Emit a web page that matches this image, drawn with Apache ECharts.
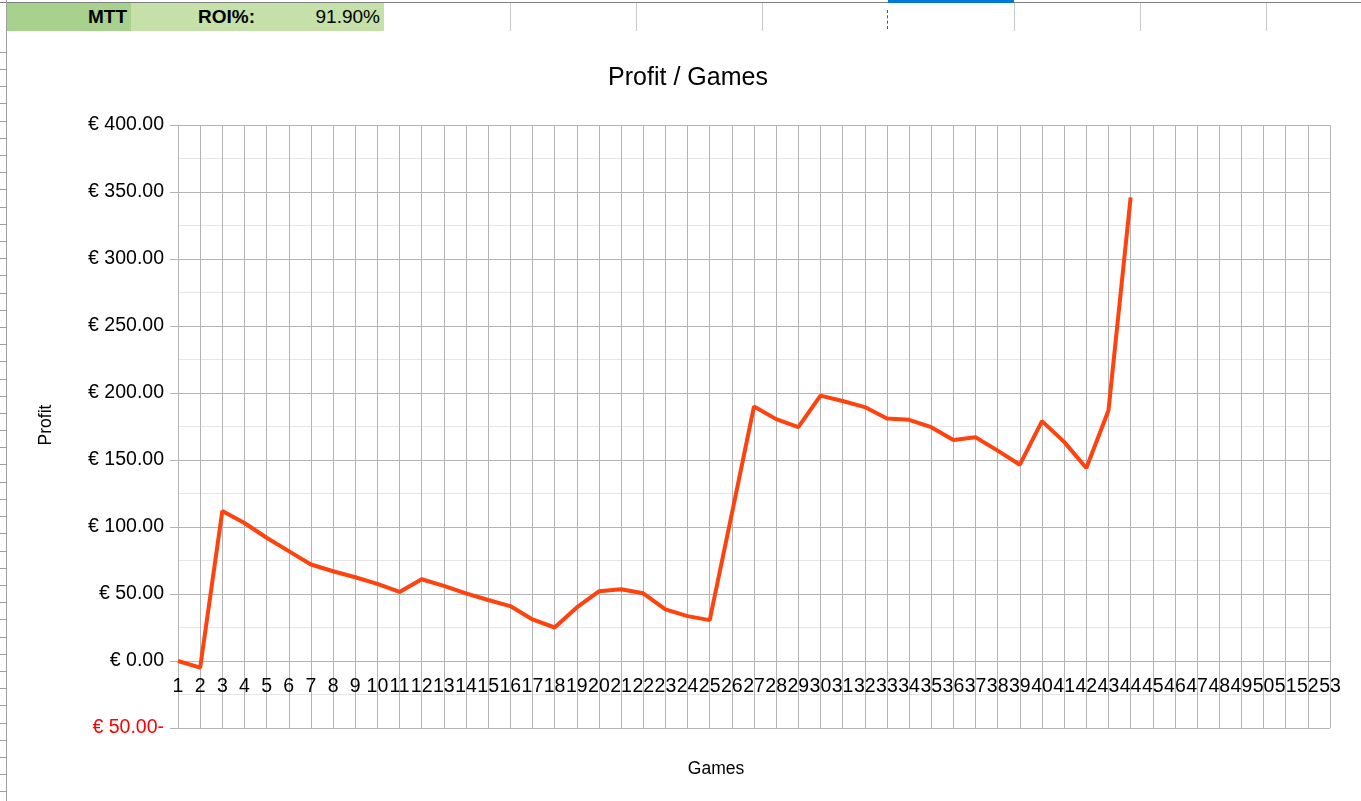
<!DOCTYPE html>
<html>
<head>
<meta charset="utf-8">
<script src="https://cdn.jsdelivr.net/npm/echarts@6/dist/echarts.min.js"></script>
<style>
html,body{margin:0;padding:0;background:#fff;}
#chart{position:absolute;left:0;top:0;width:1361px;height:801px;}
.cell{position:absolute;top:3px;height:28px;line-height:28px;font-family:"Liberation Sans Narrow","Liberation Sans",sans-serif;font-size:19px;text-align:right;box-sizing:border-box;padding-right:4px;color:#000;}
.vl{position:absolute;top:3px;width:1px;height:28px;background:#c8c8c8;}
</style>
</head>
<body>
<div id="chart"></div>
<div style="position:absolute;left:0;top:2px;width:1361px;height:1px;background:#808080;"></div>
<div class="cell" style="left:6px;width:125px;background:#a9d18e;font-weight:bold;">MTT</div>
<div class="cell" style="left:131px;width:126px;background:#c5e0a8;font-weight:bold;padding-right:2px;">ROI%:</div>
<div class="cell" style="left:257px;width:127px;background:#c5e0a8;">91.90%</div>
<div class="vl" style="left:510px"></div>
<div class="vl" style="left:636px"></div>
<div class="vl" style="left:762px"></div>
<div class="vl" style="left:1014px"></div>
<div class="vl" style="left:1140px"></div>
<div class="vl" style="left:1266px"></div>
<div style="position:absolute;left:888px;top:0;width:126px;height:3px;background:#0078d7;"></div>
<div style="position:absolute;left:887px;top:10px;width:1px;height:19px;border-left:1px dashed #555;"></div>
<div style="position:absolute;left:6px;top:0;width:1px;height:801px;background:#a0a0a0;"></div>
<div id="rows"></div>
<script>
var games = [];
for (var i = 1; i <= 53; i++) games.push(String(i));
var profit = [0, -5, 112, 103, 92, 82, 72, 67, 62.5, 57.5, 51.5, 61, 56, 50.5, 45.5, 41, 31, 25, 40, 52, 53.5, 50.5, 38.5, 33.5, 30.5, 110, 190, 180.5, 174.5, 198, 194, 189.5, 181, 180, 174.5, 165, 167, 157, 146.5, 179, 163.5, 144, 187, 346];
var yTicks = { min: -50, max: 400, interval: 50 };

// spreadsheet row markers on left edge
var rows = document.getElementById('rows');
for (var r = 0; r < 45; r++) {
  var d = document.createElement('div');
  var y = 51.7 + r * 17.2;
  if (y > 800) break;
  d.style.cssText = 'position:absolute;left:0;top:' + Math.round(y) + 'px;width:6px;height:1px;background:#a0a0a0;';
  rows.appendChild(d);
}

var chart = echarts.init(document.getElementById('chart'));
chart.setOption({
  backgroundColor: '#ffffff',
  animation: false,
  title: {
    text: 'Profit / Games',
    left: 683, top: 61, textAlign: 'center',
    textStyle: { fontFamily: 'Liberation Sans', fontSize: 25, fontWeight: 'normal', color: '#000' }
  },
  graphic: [
    { type: 'text', x: 716, y: 769, style: { text: 'Games', textAlign: 'center', textVerticalAlign: 'middle', fontFamily: 'Liberation Sans', fontSize: 17.5, fill: '#000' } },
    { type: 'text', x: 46, y: 425, rotation: Math.PI / 2, style: { text: 'Profit', textAlign: 'center', textVerticalAlign: 'middle', fontFamily: 'Liberation Sans', fontSize: 17.5, fill: '#000' } }
  ],
  grid: { left: 178, right: 31, top: 125, bottom: 73, containLabel: false },
  xAxis: {
    type: 'category',
    data: games,
    boundaryGap: false,
    offset: -67,
    axisLine: { onZero: false, lineStyle: { color: '#b3b3b3', width: 1 } },
    axisTick: { show: false },
    axisLabel: { interval: 0, margin: 16, fontFamily: 'Liberation Sans', fontSize: 19.5, color: '#000' },
    splitLine: { show: true, interval: 0, lineStyle: { color: '#b3b3b3', width: 1 } }
  },
  yAxis: {
    type: 'value',
    min: yTicks.min, max: yTicks.max, interval: yTicks.interval,
    axisLine: { show: true, lineStyle: { color: '#b3b3b3', width: 1 } },
    axisTick: { show: true, length: 8, lineStyle: { color: '#b3b3b3' } },
    minorTick: { show: false, splitNumber: 2 },
    minorSplitLine: { show: true, lineStyle: { color: '#e6e6e6', width: 1 } },
    splitLine: { show: true, lineStyle: { color: '#b3b3b3', width: 1 } },
    axisLabel: {
      margin: 14,
      fontFamily: 'Liberation Sans', fontSize: 19.5, color: '#000',
      formatter: function (v) {
        if (v < 0) return '{neg|€ ' + Math.abs(v).toFixed(2) + '-}';
        return '€ ' + v.toFixed(2);
      },
      rich: { neg: { color: '#ff0000', fontFamily: 'Liberation Sans', fontSize: 19.5 } }
    }
  },
  series: [{
    type: 'line',
    data: profit,
    symbol: 'none',
    lineStyle: { color: '#ff420e', width: 4 },
    itemStyle: { color: '#ff420e' }
  }]
});
</script>
</body>
</html>
